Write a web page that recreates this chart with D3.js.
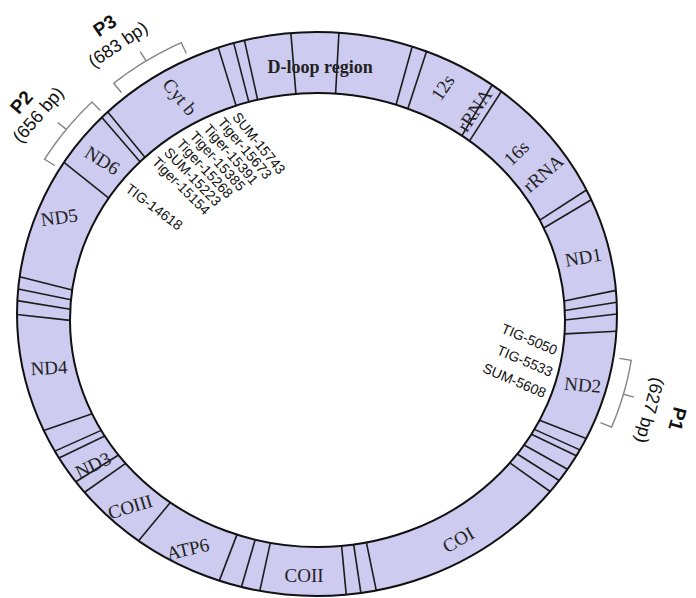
<!DOCTYPE html>
<html>
<head>
<meta charset="utf-8">
<script src="https://cdn.jsdelivr.net/npm/d3@7"></script>
<style>
  html, body { margin: 0; padding: 0; background: #fff; }
  svg { display: block; }
</style>
</head>
<body>
<svg id="chart" width="696" height="598"></svg>
<script>
// ---- Data: schematic mitochondrial genome ring (positions in bp) ----
const genomeLength = 17000;

// gene / tRNA boundaries drawn as separators across the ring
const separatorBp = [
  198, 874, 1011, 1686, 1790, 3018, 3121, 4023, 4137, 4250, 4415,
  5487, 5610, 5676, 5827, 5959, 6092, 7962, 8103, 8236, 9019, 9189,
  9397, 10223, 10899, 11026, 11300, 11376, 11598, 12745, 12878, 12991,
  13109, 14285, 14837, 14912, 16093, 16239, 16339, 16764
];

const geneNames = [
  "D-loop region", "12s rRNA", "16s rRNA", "ND1", "ND2", "COI", "COII",
  "ATP6", "COIII", "ND3", "ND4", "ND5", "ND6", "Cyt b"
];

const markerNames = [
  "SUM-15743", "Tiger-15673", "Tiger-15391", "Tiger-15385", "Tiger-15268",
  "SUM-15223", "Tiger-15154", "TIG-14618", "TIG-5050", "TIG-5533", "SUM-5608"
];

const primerNames = ["P1", "P2", "P3"];
const primerSizes = [627, 656, 683];          // amplicon length, bp
const primerCenterBp = [4982, 14544, 15465];  // amplicon midpoint on the ring

// ---- Layout ----
const ring = {
  outer: { cx: 317, cy: 314, rx: 300, ry: 282 },
  inner: { cx: 317.5, cy: 320, rx: 247.5, ry: 227 }
};

// gene label placement: angle (deg), fraction across band (0 inner, 1 outer), rotation
const geneLabelLayout = {
  "D-loop region": [{ t: "D-loop region", deg: 0.6, f: 0.42, rot: 0, bold: true }],
  "12s rRNA": [{ t: "12s", deg: 27, f: 0.55, rot: -56 }, { t: "rRNA", deg: 35.2, f: 0.48, rot: -56 }],
  "16s rRNA": [{ t: "16s", deg: 48.2, f: 0.37, rot: -44 }, { t: "rRNA", deg: 55.6, f: 0.5, rot: -41 }],
  "ND1":   [{ t: "ND1", deg: 76.4, f: 0.5, rot: -10 }],
  "ND2":   [{ t: "ND2", deg: 105.4, f: 0.53, rot: 5 }],
  "COI":   [{ t: "COI", deg: 149.5, f: 0.58, rot: -30 }],
  "COII":  [{ t: "COII", deg: 182.7, f: 0.58, rot: 0 }],
  "ATP6":  [{ t: "ATP6", deg: 207.4, f: 0.64, rot: -13 }],
  "COIII": [{ t: "COIII", deg: 222.5, f: 0.56, rot: -17 }],
  "ND3":   [{ t: "ND3", deg: 234.6, f: 0.525, rot: -26 }],
  "ND4":   [{ t: "ND4", deg: 258.5, f: 0.5, rot: -3 }],
  "ND5":   [{ t: "ND5", deg: 292.4, f: 0.6, rot: -8 }],
  "ND6":   [{ t: "ND6", deg: 308.1, f: 0.49, rot: 32 }],
  "Cyt b": [{ t: "Cyt b", deg: 329.9, f: 0.5, rot: 50 }]
};

// marker labels fanned inside the ring: angle (deg), inset (px), rotation, anchor
const markerLayout = [
  { deg: -20.0, d: 8, rot: 51, anchor: "start" },
  { deg: -23.8, d: 8, rot: 50, anchor: "start" },
  { deg: -27.6, d: 8, rot: 49, anchor: "start" },
  { deg: -31.4, d: 8, rot: 48, anchor: "start" },
  { deg: -35.2, d: 8, rot: 47, anchor: "start" },
  { deg: -39.0, d: 8, rot: 46, anchor: "start" },
  { deg: -42.8, d: 8, rot: 45, anchor: "start" },
  { deg: -52.5, d: 8, rot: 37, anchor: "start" },
  { deg: 98.0, d: 6, rot: 23, anchor: "end" },
  { deg: 103.7, d: 6, rot: 23, anchor: "end" },
  { deg: 109.4, d: 6, rot: 23, anchor: "end" }
];

// primer label placement outside the ring
const primerLabelLayout = [
  { deg: 107, dSize: 48, dName: 77, rot: 105 },
  { deg: -53, dSize: 49, dName: 70, rot: -49 },
  { deg: -35, dSize: 47, dName: 70, rot: -34 }
];

// ---- Drawing ----
const svg = d3.select("#chart");
const angle = d3.scaleLinear().domain([0, genomeLength]).range([0, 2 * Math.PI]);
const rad = d => d * Math.PI / 180;

function ellPt(e, th, d) {
  return [e.cx + (e.rx + d) * Math.sin(th), e.cy - (e.ry + d) * Math.cos(th)];
}
function bandPt(th, f) {
  const a = ellPt(ring.inner, th, 0), b = ellPt(ring.outer, th, 0);
  return [a[0] + (b[0] - a[0]) * f, a[1] + (b[1] - a[1]) * f];
}

svg.append("rect").attr("width", 696).attr("height", 598).attr("fill", "#fff");

// ring band
svg.append("ellipse")
  .attr("cx", ring.outer.cx).attr("cy", ring.outer.cy)
  .attr("rx", ring.outer.rx).attr("ry", ring.outer.ry)
  .attr("fill", "#cdcbf0");
svg.append("ellipse")
  .attr("cx", ring.inner.cx).attr("cy", ring.inner.cy)
  .attr("rx", ring.inner.rx).attr("ry", ring.inner.ry)
  .attr("fill", "#fff");

// separators
svg.append("g").selectAll("line").data(separatorBp).join("line")
  .each(function (bp) {
    const th = angle(bp);
    const p = ellPt(ring.inner, th, 0), q = ellPt(ring.outer, th, 0);
    d3.select(this).attr("x1", p[0]).attr("y1", p[1]).attr("x2", q[0]).attr("y2", q[1]);
  })
  .attr("stroke", "#1c1c1c").attr("stroke-width", 1.6);

// ring outlines
["outer", "inner"].forEach(k => {
  svg.append("ellipse")
    .attr("cx", ring[k].cx).attr("cy", ring[k].cy)
    .attr("rx", ring[k].rx).attr("ry", ring[k].ry)
    .attr("fill", "none").attr("stroke", "#111").attr("stroke-width", 2);
});

// gene labels
const geneLines = geneNames.flatMap(n => geneLabelLayout[n]);
svg.append("g").selectAll("text").data(geneLines).join("text")
  .attr("transform", d => {
    const p = bandPt(rad(d.deg), d.f);
    return `translate(${p[0]},${p[1]}) rotate(${d.rot})`;
  })
  .attr("text-anchor", "middle")
  .attr("dominant-baseline", "central")
  .attr("font-family", "'Liberation Serif', 'Times New Roman', serif")
  .attr("font-size", d => d.bold ? 18 : 19)
  .attr("font-weight", d => d.bold ? "bold" : "normal")
  .attr("fill", "#222")
  .text(d => d.t);

// marker labels inside the ring
svg.append("g").selectAll("text").data(markerNames).join("text")
  .attr("transform", (d, i) => {
    const L = markerLayout[i];
    const p = ellPt(ring.inner, rad(L.deg), -L.d);
    return `translate(${p[0]},${p[1]}) rotate(${L.rot})`;
  })
  .attr("text-anchor", (d, i) => markerLayout[i].anchor)
  .attr("dominant-baseline", "central")
  .attr("font-family", "'Liberation Sans', Arial, sans-serif")
  .attr("font-size", 14)
  .attr("fill", "#111")
  .text(d => d);

// primer brackets
const bracketLine = d3.line();
primerNames.forEach((name, i) => {
  const c = angle(primerCenterBp[i]);
  const half = angle(primerSizes[i]) / 2;
  const a0 = c - half, a1 = c + half;
  const o = ring.outer;
  const pts = [ellPt(o, a0, 6)];
  const n = 12;
  for (let k = 0; k <= n; k++) pts.push(ellPt(o, a0 + (c - a0) * k / n, 18));
  pts.push(ellPt(o, c, 29));
  for (let k = 0; k <= n; k++) pts.push(ellPt(o, c + (a1 - c) * k / n, 18));
  pts.push(ellPt(o, a1, 6));
  svg.append("path").attr("d", bracketLine(pts))
    .attr("fill", "none").attr("stroke", "#858585").attr("stroke-width", 1.4)
    .attr("stroke-linejoin", "miter");

  const L = primerLabelLayout[i];
  const ps = ellPt(o, rad(L.deg), L.dSize);
  const pn = ellPt(o, rad(L.deg), L.dName);
  svg.append("text")
    .attr("transform", `translate(${pn[0]},${pn[1]}) rotate(${L.rot})`)
    .attr("text-anchor", "middle").attr("dominant-baseline", "central")
    .attr("font-family", "'Liberation Sans', Arial, sans-serif")
    .attr("font-size", 19).attr("font-weight", "bold").attr("fill", "#111")
    .text(name);
  svg.append("text")
    .attr("transform", `translate(${ps[0]},${ps[1]}) rotate(${L.rot})`)
    .attr("text-anchor", "middle").attr("dominant-baseline", "central")
    .attr("font-family", "'Liberation Sans', Arial, sans-serif")
    .attr("font-size", 18).attr("fill", "#111")
    .text(`(${primerSizes[i]} bp)`);
});
</script>
</body>
</html>
